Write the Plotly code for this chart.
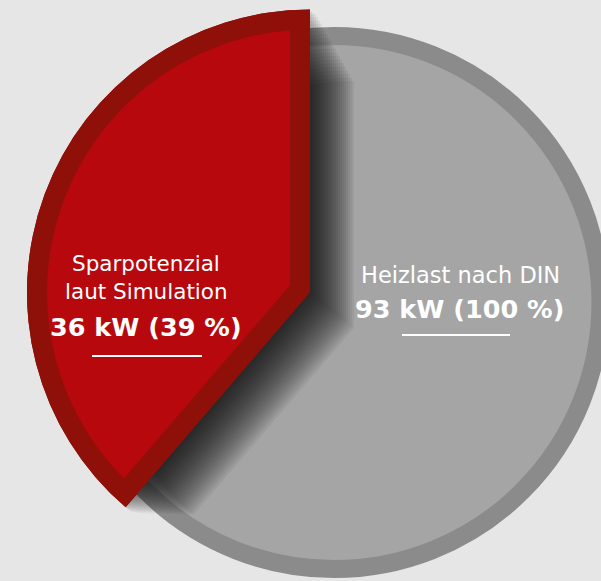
import math
import plotly.graph_objects as go

W, H = 601, 581

# ---- data ----
slice_labels = ["Sparpotenzial laut Simulation", "Heizlast nach DIN"]
values_kw = [36, 93]
percents = [39, 100]

saving_kw, total_kw = values_kw
rest_kw = total_kw - saving_kw

BG = "#e6e6e6"
GRAY_FILL = "#a5a5a5"
GRAY_RING = "#8b8b8b"
RED_FILL = "#b7080e"
RED_RING = "#8e1008"
CLEAR = "rgba(0,0,0,0)"


def dom(cx, cy, r):
    r = min(r, cx - 0.2, W - cx - 0.2, cy - 0.2, H - cy - 0.2)
    return dict(x=[(cx - r) / W, (cx + r) / W], y=[(H - cy - r) / H, (H - cy + r) / H])


# clockwise from 12 o'clock: rest first, so the saving slice ends at 12 o'clock (left side)
common = dict(sort=False, direction="clockwise", rotation=0,
              textinfo="none", hoverinfo="skip", showlegend=False)
vals = [rest_kw, saving_kw]
labs = ["rest", slice_labels[0]]

fig = go.Figure()

# full gray circle (total)
fig.add_trace(go.Pie(values=[total_kw], labels=[slice_labels[1]],
                     marker=dict(colors=[GRAY_FILL], line=dict(color=GRAY_RING, width=18)),
                     domain=dom(334, 302.5, 266.5), **common))

# exploded slice geometry (pixels)
AX, AY, R_OUT, BORDER = 310, 292.6, 283, 20

# soft shadow of the exploded slice
for i in range(1, 23):
    d = 2.0 * i
    fig.add_trace(go.Pie(values=vals, labels=labs,
                         marker=dict(colors=[CLEAR, "rgba(0,0,0,0.055)"], line=dict(width=0)),
                         domain=dom(AX + d, AY + 0.8 * d, R_OUT), **common))

# dark red base wedge
fig.add_trace(go.Pie(values=vals, labels=labs,
                     marker=dict(colors=[CLEAR, RED_RING], line=dict(width=0)),
                     domain=dom(AX, AY, R_OUT), **common))

# bright inner wedge, apex moved inward along the bisector
half = math.pi * saving_kw / total_kw
shift = BORDER / math.sin(half)
IX = AX - shift * math.sin(half)
IY = AY - shift * math.cos(half)
fig.add_trace(go.Pie(values=vals, labels=labs,
                     marker=dict(colors=[CLEAR, RED_FILL], line=dict(width=0)),
                     domain=dom(IX, IY, R_OUT - shift - 1.5), **common))

# dark red arc band
fig.add_trace(go.Pie(values=vals, labels=labs, hole=(R_OUT - BORDER) / R_OUT,
                     marker=dict(colors=[CLEAR, RED_RING], line=dict(width=0)),
                     domain=dom(AX, AY, R_OUT), **common))


def py(v):
    return 1 - v / H


FONT = "DejaVu Sans"
ann = [
    dict(text="Sparpotenzial", x=146 / W, y=py(263), size=21.5, bold=False),
    dict(text="laut Simulation", x=146 / W, y=py(291), size=21.5, bold=False),
    dict(text=f"{saving_kw} kW ({percents[0]} %)", x=146 / W, y=py(327), size=25.5, bold=True),
    dict(text="Heizlast nach DIN", x=460 / W, y=py(275), size=22.5, bold=False),
    dict(text=f"{total_kw} kW ({percents[1]} %)", x=459 / W, y=py(309), size=25.5, bold=True),
]
annotations = []
for a in ann:
    t = f"<b>{a['text']}</b>" if a["bold"] else a["text"]
    annotations.append(dict(text=t, x=a["x"], y=a["y"], xref="paper", yref="paper",
                            xanchor="center", yanchor="middle", showarrow=False,
                            font=dict(family=FONT, size=a["size"], color="white")))

shapes = [
    dict(type="line", xref="paper", yref="paper", x0=92 / W, x1=202 / W, y0=py(356), y1=py(356),
         line=dict(color="white", width=2)),
    dict(type="line", xref="paper", yref="paper", x0=402 / W, x1=510 / W, y0=py(335), y1=py(335),
         line=dict(color="white", width=2)),
]

fig.update_layout(width=W, height=H, margin=dict(l=0, r=0, t=0, b=0),
                  paper_bgcolor=BG, plot_bgcolor=BG,
                  annotations=annotations, shapes=shapes)

fig.write_html("out.html", config={"displayModeBar": False})
